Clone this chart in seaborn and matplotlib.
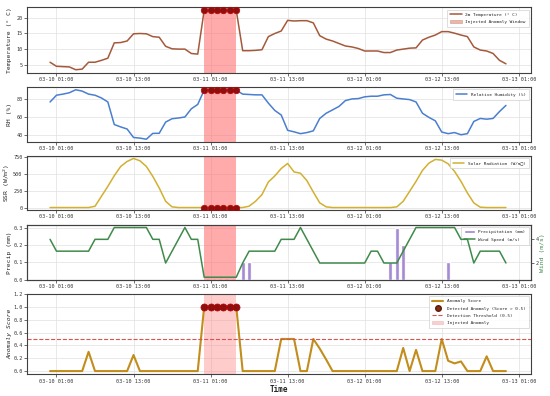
import numpy as np
import pandas as pd
import matplotlib
matplotlib.use("Agg")
import matplotlib.pyplot as plt
import matplotlib.dates as mdates
import seaborn as sns
from matplotlib.patches import Patch
from matplotlib.lines import Line2D

# ---------------- data ----------------
start_time = "2024-03-10 00:00"
n_hours = 72
anomaly_start = "2024-03-11 00:00"
anomaly_end = "2024-03-11 05:00"

temperature = [5.8, 4.5, 4.4, 4.3, 3.4, 3.6, 5.8, 5.8, 6.4, 7.1, 12.0, 12.1,
               12.6, 14.9, 15.0, 14.9, 14.0, 13.8, 10.9, 10.1, 10.0, 10.0, 8.6, 8.4,
               22.4, 22.4, 22.4, 22.4, 22.4, 22.4, 9.5, 9.5, 9.6, 9.8, 14.0, 15.0,
               15.8, 19.2, 19.0, 19.1, 19.1, 18.4, 14.3, 13.2, 12.6, 11.8, 11.0, 10.7,
               10.2, 9.4, 9.4, 9.4, 8.9, 8.9, 9.7, 10.0, 10.3, 10.4, 12.9, 13.8,
               14.5, 15.6, 15.6, 15.1, 14.5, 14.0, 10.7, 9.7, 9.4, 8.6, 6.4, 5.3]

humidity = [76.3, 83.7, 84.9, 86.4, 89.7, 88.2, 84.9, 83.7, 80.7, 76.3, 51.5, 48.9,
            46.6, 37.3, 36.6, 35.4, 41.8, 41.9, 54.2, 57.9, 58.7, 59.8, 68.8, 73.6,
            89.3, 89.3, 89.3, 89.3, 89.3, 89.3, 84.9, 84.5, 84.1, 84.1, 75.0, 67.0,
            62.0, 45.2, 43.5, 41.5, 42.7, 44.6, 58.2, 63.9, 67.6, 71.4, 77.8, 79.6,
            80.0, 81.9, 82.6, 82.6, 84.1, 84.5, 80.4, 79.6, 78.9, 76.3, 63.9, 59.4,
            55.6, 43.3, 41.5, 42.7, 40.3, 41.5, 54.9, 58.2, 57.4, 58.2, 65.8, 72.5]

solar = [0, 0, 0, 0, 0, 0, 0, 19, 167, 315, 473, 611,
         685, 730, 695, 611, 463, 291, 93, 10, 0, 0, 0, 0,
         0, 0, 0, 0, 0, 0, 0, 20, 93, 192, 380, 470,
         580, 655, 530, 510, 400, 230, 70, 10, 0, 0, 0, 0,
         0, 0, 0, 0, 0, 0, 10, 93, 241, 389, 552, 660,
         715, 705, 650, 537, 389, 217, 69, 5, 0, 0, 0, 0]

precip = [0, 0, 0, 0, 0, 0, 0, 0, 0, 0, 0, 0,
          0, 0, 0, 0, 0, 0, 0, 0, 0, 0, 0, 0,
          0, 0, 0, 0, 0, 0, 0.1, 0.1, 0, 0, 0, 0,
          0, 0, 0, 0, 0, 0, 0, 0, 0, 0, 0, 0,
          0, 0, 0, 0, 0, 0.1, 0.3, 0.2, 0, 0, 0, 0,
          0, 0, 0.1, 0, 0, 0, 0, 0, 0, 0, 0, 0]

wind = [4, 3, 3, 3, 3, 3, 3, 4, 4, 4, 5, 5,
        5, 5, 5, 5, 4, 4, 2, 3, 4, 5, 4, 4,
        0.8, 0.8, 0.8, 0.8, 0.8, 0.8, 2, 3, 3, 3, 3, 3,
        4, 4, 4, 5, 4, 3, 2, 2, 2, 2, 2, 2,
        2, 2, 3, 3, 2, 2, 2, 3, 4, 5, 5, 5,
        5, 5, 5, 5, 4, 4, 2, 3, 3, 3, 3, 2]

score = [0, 0, 0, 0, 0, 0, 0.3, 0, 0, 0, 0, 0,
         0, 0.25, 0, 0, 0, 0, 0, 0, 0, 0, 0, 0,
         1.0, 1.0, 1.0, 1.0, 1.0, 1.0, 0, 0, 0, 0, 0, 0,
         0.5, 0.5, 0.5, 0, 0, 0.5, 0.35, 0.18, 0, 0, 0, 0,
         0, 0, 0, 0, 0, 0, 0, 0.36, 0, 0.33, 0, 0,
         0, 0.5, 0.16, 0.12, 0.15, 0, 0, 0, 0.23, 0, 0, 0]

threshold = 0.5

# ---------------- style ----------------
sns.set_theme(style="ticks")
plt.rcParams["font.family"] = ["DejaVu Sans Mono", "DejaVu Sans"]
plt.rcParams["axes.edgecolor"] = "#404040"
plt.rcParams["axes.linewidth"] = 0.8

times = pd.date_range(start_time, periods=n_hours, freq="h")
t0, t1 = pd.Timestamp(anomaly_start), pd.Timestamp(anomaly_end)
df = pd.DataFrame({"time": times, "temp": temperature, "rh": humidity,
                   "ssr": solar, "precip": precip, "wind": wind, "score": score})
anom = df[(df.time >= t0) & (df.time <= t1)]

fig = plt.figure(figsize=(5.5, 3.96), dpi=100)
L, W = 0.049, 0.9164
ax1 = fig.add_axes([L, 0.8164, W, 0.1649])
ax2 = fig.add_axes([L, 0.6422, W, 0.1374])
ax3 = fig.add_axes([L, 0.4697, W, 0.1364])
ax4 = fig.add_axes([L, 0.2937, W, 0.1381])
ax5 = fig.add_axes([L, 0.0548, W, 0.2028])
axes = [ax1, ax2, ax3, ax4, ax5]

TICK = 3.7
LAB = 4.6
LEG = 3.15
span_col = "#ff6666"
mk_face = "#8b1010"
mk_edge = "#c00000"
YLX = -0.029


def style(ax):
    ax.xaxis.set_major_locator(mdates.HourLocator(byhour=[1, 13]))
    ax.xaxis.set_major_formatter(mdates.DateFormatter("%m-%d %H:%M"))
    ax.tick_params(labelsize=TICK, length=2, width=0.5, pad=1.2, colors="#333333")
    ax.grid(True, color="#e0e0e0", lw=0.5)
    ax.set_axisbelow(True)
    ax.set_xlabel("")


def ylab(ax, text, **kw):
    ax.set_ylabel(text, fontsize=LAB, **kw)
    ax.yaxis.set_label_coords(YLX, 0.5)


def legend(ax, handles):
    lg = ax.legend(handles=handles, loc="upper right", fontsize=LEG, frameon=True,
                   handlelength=2.6, borderpad=0.7, labelspacing=0.75,
                   borderaxespad=0.5, framealpha=0.9, edgecolor="#cccccc", fancybox=False)
    lg.get_frame().set_linewidth(0.5)
    return lg


# Panel 1: temperature
ax1.axvspan(t0, t1, color=span_col, alpha=0.55, lw=0)
sns.lineplot(data=df, x="time", y="temp", ax=ax1, color="#a5593b", lw=1.1)
sns.scatterplot(data=anom, x="time", y="temp", ax=ax1, s=22, color=mk_face,
                edgecolor=mk_edge, linewidth=0.5, zorder=5)
style(ax1)
ax1.set_yticks([5, 10, 15, 20])
ylab(ax1, "Temperature (° C)")
legend(ax1, [Line2D([], [], color="#a5593b", lw=1.1, label="2m Temperature (° C)"),
             Patch(facecolor="#e8b8a8", edgecolor="#d09888", lw=0.4, label="Injected Anomaly Window")])

# Panel 2: RH
ax2.axvspan(t0, t1, color=span_col, alpha=0.55, lw=0)
sns.lineplot(data=df, x="time", y="rh", ax=ax2, color="#4a7fcf", lw=1.1)
sns.scatterplot(data=anom, x="time", y="rh", ax=ax2, s=22, color=mk_face,
                edgecolor=mk_edge, linewidth=0.5, zorder=5)
style(ax2)
ax2.set_yticks([40, 60, 80])
ylab(ax2, "RH (%)")
legend(ax2, [Line2D([], [], color="#4a7fcf", lw=1.1, label="Relative Humidity (%)")])

# Panel 3: SSR
ax3.axvspan(t0, t1, color=span_col, alpha=0.55, lw=0)
sns.lineplot(data=df, x="time", y="ssr", ax=ax3, color="#d2b032", lw=1.1)
sns.scatterplot(data=anom, x="time", y="ssr", ax=ax3, s=22, color=mk_face,
                edgecolor=mk_edge, linewidth=0.5, zorder=5)
style(ax3)
ax3.set_yticks([0, 250, 500, 750])
ylab(ax3, "SSR (W/m$^2$)")
legend(ax3, [Line2D([], [], color="#d2b032", lw=1.1, label="Solar Radiation (W/m□)")])

# Panel 4: precip + wind
ax4.axvspan(t0, t1, color=span_col, alpha=0.55, lw=0)
ax4.bar(df.time, df.precip, width=0.026, color="#9b7fcf", alpha=0.9, zorder=3)
style(ax4)
ax4.set_ylim(0, 0.315)
ax4.set_yticks([0.0, 0.1, 0.2, 0.3])
ylab(ax4, "Precip (mm)")
ax4b = ax4.twinx()
sns.lineplot(data=df, x="time", y="wind", ax=ax4b, color="#3f8a4a", lw=1.1)
ax4b.set_yticks([2, 4])
ax4b.tick_params(labelsize=TICK, length=2, width=0.5, pad=1.2, colors="#333333")
ax4b.set_ylabel("Wind (m/s)", fontsize=LAB, color="#3f8a4a")
ax4b.yaxis.set_label_coords(1.017, 0.5)
ax4b.grid(False)
ax4b.set_xlabel("")
legend(ax4, [Patch(facecolor="#9b7fcf", label="Precipitation (mm)"),
             Line2D([], [], color="#3f8a4a", lw=1.1, label="Wind Speed (m/s)")])

# Panel 5: score
ax5.axvspan(t0, t1, color="#ff8080", alpha=0.4, lw=0)
sns.lineplot(data=df, x="time", y="score", ax=ax5, color="#c38d1c", lw=1.5)
ax5.axhline(threshold, color="#d9534f", ls="--", lw=0.8)
sns.scatterplot(data=anom, x="time", y="score", ax=ax5, s=26, color=mk_face,
                edgecolor=mk_edge, linewidth=0.5, zorder=5)
style(ax5)
ax5.set_ylim(-0.05, 1.2)
ax5.set_yticks([0.0, 0.2, 0.4, 0.6, 0.8, 1.0, 1.2])
ylab(ax5, "Anomaly Score", style="italic")
ax5.set_xlabel("Time", fontsize=5.5, fontweight="bold", labelpad=1)
legend(ax5, [Line2D([], [], color="#c38d1c", lw=1.5, label="Anomaly Score"),
             Line2D([], [], ls="", marker="o", markersize=4, markerfacecolor="#8b2a10",
                    markeredgecolor="#5a1a08", label="Detected Anomaly (Score > 0.5)"),
             Line2D([], [], color="#d9534f", ls="--", lw=0.8, label="Detection Threshold (0.5)"),
             Patch(facecolor="#f8d0d0", edgecolor="#f0b8b8", lw=0.4, label="Injected Anomaly")])

xmin = times[0] - pd.Timedelta(hours=3.6)
xmax = times[-1] + pd.Timedelta(hours=3.9)
for ax in axes:
    ax.set_xlim(xmin, xmax)

fig.savefig("out.png", dpi=100)
